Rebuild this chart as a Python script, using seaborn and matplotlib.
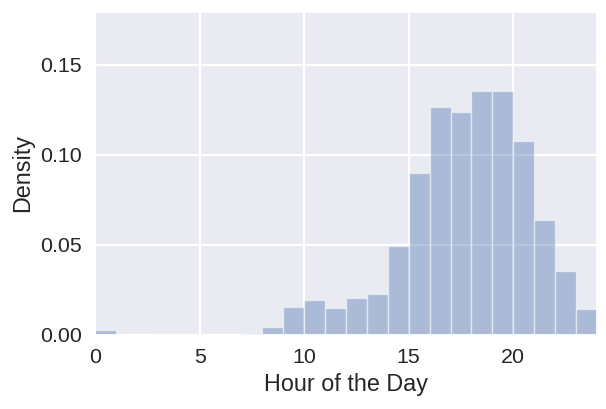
import numpy as np
import pandas as pd
import matplotlib
matplotlib.use('Agg')
import matplotlib.pyplot as plt
import seaborn as sns

# Density per hour bin (bin start hours 0..23)
hours = list(range(24))
density = [0.0025, 0.0, 0.0, 0.0006, 0.0004, 0.0, 0.0, 0.0012,
           0.0044, 0.0156, 0.0194, 0.0150, 0.0206, 0.0228, 0.0494, 0.0900,
           0.1267, 0.1240, 0.1356, 0.1356, 0.1080, 0.0640, 0.0356, 0.0144]

df = pd.DataFrame({'hour': [h + 0.5 for h in hours], 'density': density})

sns.set_theme(style='darkgrid', font_scale=1.4, rc={'grid.linewidth': 1.6})
plt.rcParams['font.family'] = ['Liberation Sans', 'DejaVu Sans']

fig = plt.figure(figsize=(6.06, 4.09), dpi=100)
ax = fig.add_axes([0.157, 0.181, 0.828, 0.790])

sns.histplot(data=df, x='hour', weights='density', binwidth=1, binrange=(0, 24),
             stat='count', color='#4c72b0', alpha=0.4,
             edgecolor=(1, 1, 1, 0.5), linewidth=1, ax=ax)

ax.set_xlim(0, 24)
ax.set_ylim(0, 0.1795)
ax.set_yticks([0.0, 0.05, 0.10, 0.15])
ax.set_yticklabels(['0.00', '0.05', '0.10', '0.15'])
ax.set_xticks([0, 5, 10, 15, 20])
ax.set_xlabel('Hour of the Day')
ax.set_ylabel('Density')

fig.savefig('out.png', dpi=100)
